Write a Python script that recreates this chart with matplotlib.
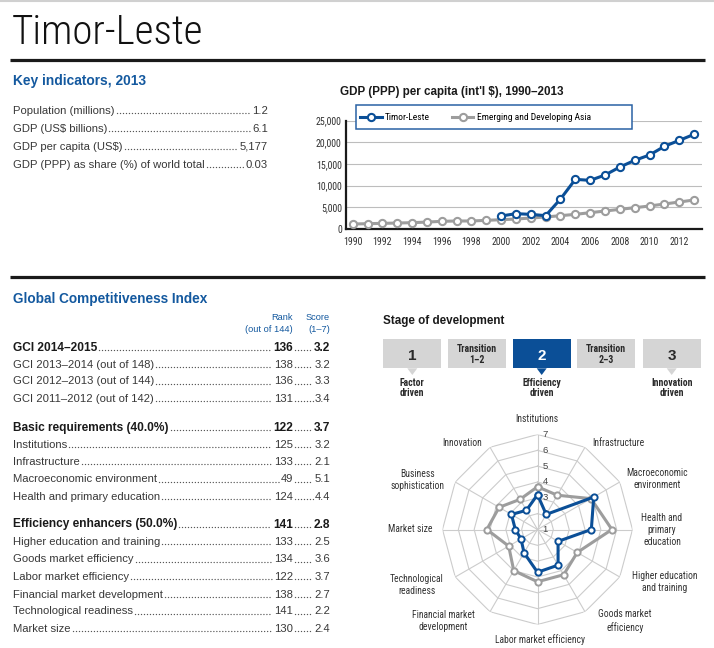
import numpy as np
import matplotlib
matplotlib.use('Agg')
import matplotlib.pyplot as plt
from matplotlib.patches import Rectangle, Polygon
from matplotlib.ticker import FuncFormatter
from matplotlib.transforms import offset_copy

plt.rcParams['font.family'] = ['Liberation Sans', 'DejaVu Sans']
NARROW = ['Roboto Condensed', 'Liberation Sans Narrow', 'Open Sans Condensed', 'Roboto',
          'Liberation Sans']

BLUE = '#0b4f97'
HEAD = '#14599f'
GRAY = '#9d9d9d'
BOXGRAY = '#d5d5d5'
DARK = '#1a1a1a'
TXT = '#383838'

# ---- data ----
key_labels = ['Population (millions)', 'GDP (US$ billions)', 'GDP per capita (US$)',
              'GDP (PPP) as share (%) of world total']
key_values = ['1.2', '6.1', '5,177', '0.03']

gci_labels = ['GCI 2014–2015', 'GCI 2013–2014 (out of 148)', 'GCI 2012–2013 (out of 144)',
              'GCI 2011–2012 (out of 142)']
gci_rank = ['136', '138', '136', '131']
gci_score = ['3.2', '3.2', '3.3', '3.4']

basic_labels = ['Basic requirements (40.0%)', 'Institutions', 'Infrastructure',
                'Macroeconomic environment', 'Health and primary education']
basic_rank = ['122', '125', '133', '49', '124']
basic_score = ['3.7', '3.2', '2.1', '5.1', '4.4']

eff_labels = ['Efficiency enhancers (50.0%)', 'Higher education and training',
              'Goods market efficiency', 'Labor market efficiency',
              'Financial market development', 'Technological readiness', 'Market size']
eff_rank = ['141', '133', '134', '122', '138', '141', '130']
eff_score = ['2.8', '2.5', '3.6', '3.7', '2.7', '2.2', '2.4']

years_asia = list(range(1990, 2014))
gdp_asia = [1150, 1230, 1300, 1380, 1460, 1600, 1770, 1850, 1850, 2000, 2150, 2300,
            2540, 2770, 3080, 3380, 3770, 4150, 4540, 4920, 5310, 5770, 6230, 6700]
years_tl = list(range(2000, 2014))
gdp_tl = [3000, 3540, 3380, 3080, 6920, 11460, 11230, 12460, 14300, 15850, 17080,
          19080, 20460, 21850]

pillars = ['Institutions', 'Infrastructure', 'Macroeconomic\nenvironment',
           'Health and\nprimary\neducation', 'Higher education\nand training',
           'Goods market\nefficiency', 'Labor market efficiency',
           'Financial market\ndevelopment', 'Technological\nreadiness', 'Market size',
           'Business\nsophistication', 'Innovation']
score_tl = [3.2, 2.1, 5.1, 4.4, 2.5, 3.6, 3.7, 2.7, 2.2, 2.4, 2.9, 2.4]
score_asia = [3.7, 3.5, 4.9, 5.7, 3.9, 4.3, 4.3, 4.0, 3.1, 4.2, 3.8, 3.2]

stages = ['1', 'Transition\n1–2', '2', 'Transition\n2–3', '3']
stage_notes = ['Factor\ndriven', '', 'Efficiency\ndriven', '', 'Innovation\ndriven']
current_stage = 2

# ---- figure ----
W, H = 714, 648
fig = plt.figure(figsize=(W / 100, H / 100), dpi=100)
bg = fig.add_axes([0, 0, 1, 1])
bg.set_xlim(0, W)
bg.set_ylim(H, 0)
bg.axis('off')

bg.plot([0, W], [1, 1], color='#d0d0d0', lw=1.5)
bg.text(12, 43.5, 'Timor-Leste', fontsize=29.5, family=NARROW, fontweight='light', color='#111111',
        va='baseline')
bg.plot([10, 705], [60, 60], color=DARK, lw=2.3, solid_capstyle='butt')
bg.plot([10, 705], [277, 277], color=DARK, lw=2.3, solid_capstyle='butt')

bg.text(13, 85, 'Key indicators, 2013', fontsize=9.9, fontweight='bold', color=HEAD, va='baseline')
bg.text(13, 302.5, 'Global Competitiveness Index', fontsize=9.8, fontweight='bold', color=HEAD,
        va='baseline')

leaders = []

# key indicators
key_y = [113.5, 131.5, 149.5, 167.5]
for lab, val, y in zip(key_labels, key_values, key_y):
    t1 = bg.text(13, y, lab, fontsize=8.1, color=TXT, va='baseline')
    t2 = bg.text(268, y, val, fontsize=8.1, color=TXT, va='baseline', ha='right')
    leaders.append((t1, t2, y))

# GCI table
bg.text(293, 319.5, 'Rank', fontsize=6.7, color=HEAD, ha='right', va='baseline')
bg.text(293, 331.5, '(out of 144)', fontsize=6.7, color=HEAD, ha='right', va='baseline')
bg.text(330, 319.5, 'Score', fontsize=6.7, color=HEAD, ha='right', va='baseline')
bg.text(330, 331.5, '(1–7)', fontsize=6.7, color=HEAD, ha='right', va='baseline')


def table_block(labels, ranks, scores, ys):
    for i, (lab, rk, sc, y) in enumerate(zip(labels, ranks, scores, ys)):
        bold = i == 0
        kw = dict(fontsize=8.6 if bold else 8.1, fontweight='bold' if bold else 'normal',
                  color=DARK if bold else TXT, va='baseline')
        t1 = bg.text(13, y, lab, **kw)
        t2 = bg.text(293, y, rk, ha='right', **kw)
        t3 = bg.text(330, y, sc, ha='right', **kw)
        leaders.append((t1, t2, y))
        leaders.append((t2, t3, y))


table_block(gci_labels, gci_rank, gci_score, [351, 367.5, 384.5, 401.7])
table_block(basic_labels, basic_rank, basic_score, [431, 447.5, 465, 482.5, 500])
table_block(eff_labels, eff_rank, eff_score, [527.5, 545, 562.5, 580, 597.5, 614.5, 631.7])

# ---- GDP line chart ----
bg.text(340, 95, "GDP (PPP) per capita (int'l $), 1990–2013", fontsize=8.4, fontweight='bold',
        color=DARK, va='baseline')
ax = fig.add_axes([345.7 / W, 1 - 229 / H, (701.5 - 345.7) / W, (229 - 120.7) / H])
ax.patch.set_alpha(0)
la, = ax.plot(years_asia, gdp_asia, color=GRAY, lw=2.2, marker='o', ms=5.2, mfc='white',
              mec=GRAY, mew=1.5, zorder=3)
lt, = ax.plot(years_tl, gdp_tl, color=BLUE, lw=2.2, marker='o', ms=5.2, mfc='white',
              mec=BLUE, mew=1.5, zorder=3.5)
ax.set_xlim(1989.53, 2013.5)
ax.set_ylim(0, 25000)
ax.set_xticks(range(1990, 2013, 2))
ax.set_yticks(range(0, 25001, 5000))
ax.yaxis.set_major_formatter(FuncFormatter(lambda v, p: f'{int(v):,}'))
ax.yaxis.grid(True, color='#bdbdbd', lw=0.8)
ax.set_axisbelow(True)
for s in ['top', 'right']:
    ax.spines[s].set_visible(False)
for s in ['left', 'bottom']:
    ax.spines[s].set_linewidth(1.6)
    ax.spines[s].set_color(DARK)
ax.tick_params(length=0, labelsize=7.1, colors='#333333')
ax.tick_params(axis='x', pad=5.5)
ax.tick_params(axis='y', pad=2.8)
for lbl in ax.get_xticklabels() + ax.get_yticklabels():
    lbl.set_fontfamily(NARROW)
ax.add_patch(Rectangle((356, 105), 276, 24, transform=bg.transData, fc='white', ec='#2a62a4',
                       lw=1.1, zorder=4, clip_on=False))
ax.legend([lt, la], ['Timor-Leste', 'Emerging and Developing Asia'], loc='center left',
          bbox_to_anchor=(360 / W, 1 - 117.5 / H), bbox_transform=fig.transFigure, ncol=2,
          frameon=False, prop={'family': NARROW, 'size': 6.8}, handlelength=2.3,
          handletextpad=0.35, columnspacing=2.3, borderpad=0, borderaxespad=0)

# ---- stage of development ----
bg.text(383, 324, 'Stage of development', fontsize=8.4, fontweight='bold', color=DARK,
        va='baseline')
box_x = [383.3, 448, 512.7, 577.3, 642.7]
bw = 58
for i, (st, note, x0) in enumerate(zip(stages, stage_notes, box_x)):
    cur = (i == current_stage)
    fc = BLUE if cur else BOXGRAY
    bg.add_patch(Rectangle((x0, 339.3), bw, 29, fc=fc, ec='none'))
    cx = x0 + bw / 2
    if note:
        bg.add_patch(Polygon([[cx - 5, 368.3], [cx + 5, 368.3], [cx, 375]], closed=True,
                             fc=fc, ec='none'))
        bg.text(cx, 388, note, fontsize=7, fontweight='bold', family=NARROW, color='#2a2a2a',
                ha='center', va='center', linespacing=1.1)
    if '\n' in st:
        bg.text(cx, 354.5, st, fontsize=7, fontweight='bold', family=NARROW, color='#2a2a2a',
                ha='center', va='center', linespacing=1.2)
    else:
        bg.text(cx, 356.5, st, fontsize=11, fontweight='bold', color='white' if cur else '#2a2a2a',
                ha='center', va='center')

# ---- radar ----
cx0, cy0, R = 537.5, 529.5, 95
rax = fig.add_axes([(cx0 - R) / W, 1 - (cy0 + R) / H, 2 * R / W, 2 * R / H], projection='polar')
rax.set_theta_zero_location('N')
rax.set_theta_direction(-1)
rax.set_ylim(1, 7)
rax.set_xticks([])
rax.set_yticks([])
rax.grid(False)
rax.spines['polar'].set_visible(False)
rax.patch.set_alpha(0)

n = len(pillars)
theta = np.arange(n) * 2 * np.pi / n
theta_c = np.append(theta, theta[0])
for r in range(2, 8):
    rax.plot(theta_c, [r] * (n + 1), color='#cccccc', lw=0.8, zorder=1)
for t in theta:
    rax.plot([t, t], [1, 7], color='#cccccc', lw=0.8, zorder=1)
off = offset_copy(rax.transData, fig=fig, x=5, y=0, units='dots')
for k in range(1, 8):
    rax.text(0, k, str(k), transform=off, fontsize=6.8, color='#444444', ha='left',
             va='center', zorder=1.5)
rax.plot(theta_c, score_asia + score_asia[:1], color=GRAY, lw=2.2, marker='o', ms=4.5,
         mfc='white', mec=GRAY, mew=1.4, zorder=3, clip_on=False)
rax.plot(theta_c, score_tl + score_tl[:1], color=BLUE, lw=2.2, marker='o', ms=4.5,
         mfc='white', mec=BLUE, mew=1.4, zorder=4, clip_on=False)

label_pos = [(537, 419.5), (618, 442.5), (657, 479), (662, 530), (665, 582), (625, 621),
             (540, 640), (443, 621), (417, 585), (410, 528.5), (418, 480), (462, 442.5)]
for lab, (x, y) in zip(pillars, label_pos):
    bg.text(x, y, lab, fontsize=6.9, family=NARROW, color='#333333', ha='center', va='center',
            linespacing=1.3)

# ---- leader dots ----
fig.canvas.draw()
rend = fig.canvas.get_renderer()
inv = bg.transData.inverted()
for t1, t2, y in leaders:
    x0 = inv.transform((t1.get_window_extent(rend).x1, 0))[0]
    x1 = inv.transform((t2.get_window_extent(rend).x0, 0))[0]
    bg.plot([x0 + 2, x1 - 2], [y - 0.8, y - 0.8], color='#555555', lw=1.0,
            linestyle=(0, (0.05, 2.1)), dash_capstyle='round')

fig.savefig('out.png', dpi=100)
